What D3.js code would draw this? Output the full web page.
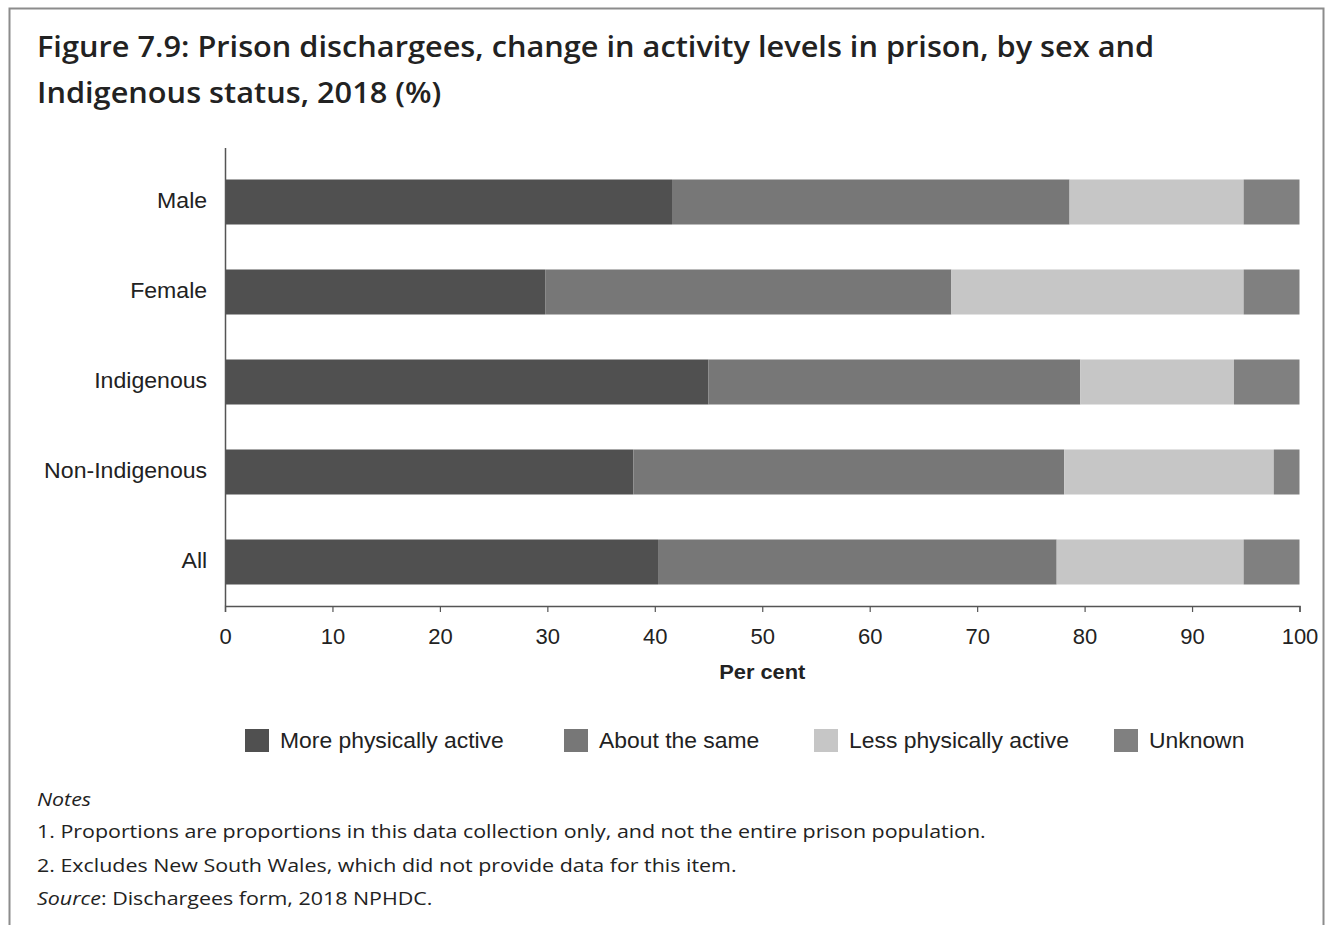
<!DOCTYPE html>
<html>
<head>
<meta charset="utf-8">
<script src="https://cdn.jsdelivr.net/npm/d3@7"></script>
<style>
  html, body { margin: 0; padding: 0; background: #fff; }
  svg { display: block; }
</style>
</head>
<body>
<svg id="chart" width="1330" height="925"></svg>
<script>
const categories = ["Male", "Female", "Indigenous", "Non-Indigenous", "All"];
const seriesNames = ["More physically active", "About the same", "Less physically active", "Unknown"];
const moreActive = [41.6, 29.8, 45.0, 38.0, 40.3];
const aboutSame = [37.0, 37.8, 34.6, 40.1, 37.1];
const lessActive = [16.2, 27.2, 14.3, 19.5, 17.4];
const unknown = [5.2, 5.2, 6.1, 2.4, 5.2];
const xTicks = [0, 10, 20, 30, 40, 50, 60, 70, 80, 90, 100];
const colors = ["#505050", "#777777", "#c6c6c6", "#808080"];
const titleLines = ["Figure 7.9: Prison dischargees, change in activity levels in prison, by sex and", "Indigenous status, 2018 (%)"];

const svg = d3.select("#chart");
const series = [moreActive, aboutSame, lessActive, unknown];
const sans = "'Liberation Sans', Arial, sans-serif";

// border
svg.append("rect").attr("x", 9.5).attr("y", 8.5).attr("width", 1314).attr("height", 940)
  .attr("fill", "none").attr("stroke", "#8c8c8c").attr("stroke-width", 2);

// title
svg.append("g").selectAll("text").data(titleLines).join("text")
  .attr("transform", (d, i) => `translate(37,${57 + i * 46}) scale(1.06,1)`)
  .attr("font-family", "'Open Sans', sans-serif").attr("font-weight", 600)
  .attr("font-size", 29).attr("fill", "#222")
  .text(d => d);

const x = d3.scaleLinear().domain([0, 100]).range([225, 1299.5]);
const y = d3.scaleBand().domain(categories).range([157, 607]).paddingInner(0.5).paddingOuter(0.25);

const rows = categories.map((c, i) => {
  let acc = 0;
  return series.map((s, k) => { const x0 = acc; acc += s[i]; return { cat: c, k, x0, x1: acc }; });
}).flat();

svg.append("g").selectAll("rect").data(rows).join("rect")
  .attr("x", d => x(d.x0)).attr("width", d => x(d.x1) - x(d.x0))
  .attr("y", d => y(d.cat)).attr("height", y.bandwidth())
  .attr("fill", d => colors[d.k]);

// y axis
const yAxis = svg.append("g").attr("transform", "translate(225,0)")
  .call(d3.axisLeft(y).tickSize(0).tickPadding(17));
yAxis.select(".domain").attr("d", "M0.5,148V606").attr("stroke", "#555").attr("stroke-width", 1.5);
yAxis.selectAll("text").attr("font-family", sans)
  .attr("font-size", 22).attr("fill", "#222").attr("dy", "0.28em")
  .attr("transform", "scale(1.05,1)");

// x axis
const xAxis = svg.append("g").attr("transform", "translate(0,606)")
  .call(d3.axisBottom(x).tickValues(xTicks).tickSize(6).tickSizeOuter(6).tickPadding(16).tickFormat(d3.format("d")));
xAxis.select(".domain").attr("stroke", "#555").attr("stroke-width", 1.5);
xAxis.selectAll(".tick line").attr("stroke", "#555").attr("stroke-width", 1.2);
xAxis.selectAll("text").attr("font-family", sans)
  .attr("font-size", 22).attr("fill", "#222");

svg.append("text").attr("transform", `translate(${x(50)},679) scale(1.04,1)`).attr("text-anchor", "middle")
  .attr("font-family", sans).attr("font-weight", "bold")
  .attr("font-size", 21).attr("fill", "#222").text("Per cent");

// legend
const legendX = [245, 564, 814, 1114];
const lg = svg.append("g").selectAll("g").data(seriesNames).join("g")
  .attr("transform", (d, i) => `translate(${legendX[i]},729)`);
lg.append("rect").attr("width", 24).attr("height", 23).attr("fill", (d, i) => colors[i]);
lg.append("text").attr("transform", "translate(35,11.5) scale(1.04,1)").attr("dy", "0.35em")
  .attr("font-family", sans).attr("font-size", 22).attr("fill", "#222")
  .text(d => d);

// notes
const notes = svg.append("g").attr("transform", "translate(37,0) scale(1.19,1)")
  .attr("font-family", "'Open Sans', sans-serif").attr("font-size", 18).attr("fill", "#222");
notes.append("text").attr("x", 0).attr("y", 806).attr("font-style", "italic").text("Notes");
notes.append("text").attr("x", 0).attr("y", 838).text("1. Proportions are proportions in this data collection only, and not the entire prison population.");
notes.append("text").attr("x", 0).attr("y", 872).text("2. Excludes New South Wales, which did not provide data for this item.");
const src = notes.append("text").attr("x", 0).attr("y", 905);
src.append("tspan").attr("font-style", "italic").text("Source");
src.append("tspan").text(": Dischargees form, 2018 NPHDC.");
</script>
</body>
</html>
